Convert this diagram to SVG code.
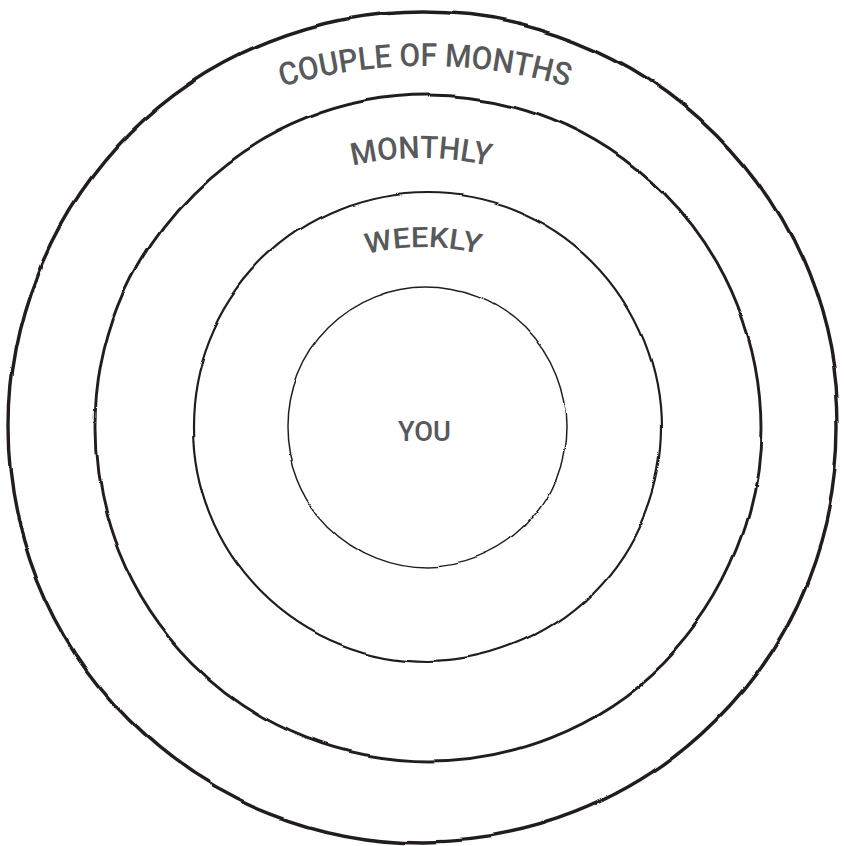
<svg xmlns="http://www.w3.org/2000/svg" xmlns:xlink="http://www.w3.org/1999/xlink" width="844" height="846" viewBox="0 0 844 846">
<style>
.ring{fill:none;stroke:#231f20;}
.lbl{font-family:Roboto,"DejaVu Sans","Liberation Sans",sans-serif;font-weight:500;fill:#58595b;}
</style>
<defs>
<filter id="wob" x="-5%" y="-5%" width="110%" height="110%">
<feTurbulence type="fractalNoise" baseFrequency="0.009" numOctaves="1" seed="5" result="n"/>
<feDisplacementMap in="SourceGraphic" in2="n" scale="9" xChannelSelector="R" yChannelSelector="G"/>
</filter>
<path id="arcCouple" d="M225,107.7 A500,500 0 0 1 625,107.7"/>
<path id="arcMonthly" d="M271,198.2 A300,300 0 0 1 571,198.2"/>
<path id="arcWeekly" d="M303,280.8 A230,230 0 0 1 543,280.8"/>
</defs>
<rect width="844" height="846" fill="#ffffff"/>
<g id="ring-couple"><circle class="ring" cx="423" cy="427" r="415" stroke-width="3.4" filter="url(#wob)"/>
<text class="lbl" font-size="32"><textPath xlink:href="#arcCouple" href="#arcCouple" startOffset="50%" text-anchor="middle" textLength="290" lengthAdjust="spacingAndGlyphs">COUPLE OF MONTHS</textPath></text></g>
<g id="ring-monthly"><circle class="ring" cx="428" cy="428" r="333" stroke-width="2.9" filter="url(#wob)"/>
<text class="lbl" font-size="31"><textPath xlink:href="#arcMonthly" href="#arcMonthly" startOffset="50%" text-anchor="middle" textLength="138" lengthAdjust="spacingAndGlyphs">MONTHLY</textPath></text></g>
<g id="ring-weekly"><circle class="ring" cx="427" cy="427" r="234" stroke-width="2.2" filter="url(#wob)"/>
<text class="lbl" font-size="28"><textPath xlink:href="#arcWeekly" href="#arcWeekly" startOffset="50%" text-anchor="middle" textLength="114" lengthAdjust="spacingAndGlyphs">WEEKLY</textPath></text></g>
<g id="you"><circle class="ring" cx="427" cy="427" r="140" stroke-width="1.5" filter="url(#wob)"/>
<text class="lbl" x="424.5" y="441" font-size="28" text-anchor="middle" textLength="53" lengthAdjust="spacingAndGlyphs">YOU</text></g>
</svg>
